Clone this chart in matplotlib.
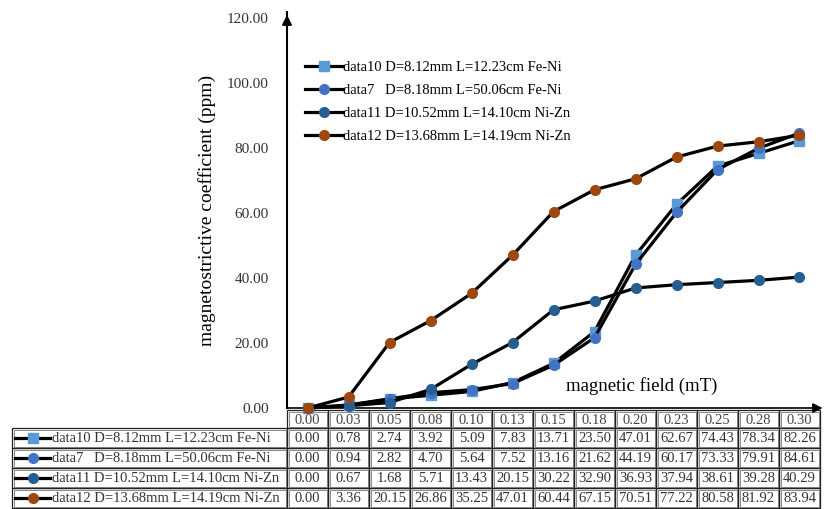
import matplotlib
matplotlib.use("Agg")
import matplotlib.pyplot as plt
from matplotlib.patches import Rectangle

plt.rcParams['font.family'] = ['Liberation Serif', 'DejaVu Serif']

fields = ["0.00", "0.03", "0.05", "0.08", "0.10", "0.13", "0.15",
          "0.18", "0.20", "0.23", "0.25", "0.28", "0.30"]
labels = ["data10 D=8.12mm L=12.23cm Fe-Ni",
          "data7   D=8.18mm L=50.06cm Fe-Ni",
          "data11 D=10.52mm L=14.10cm Ni-Zn",
          "data12 D=13.68mm L=14.19cm Ni-Zn"]
data10 = [0.00, 0.78, 2.74, 3.92, 5.09, 7.83, 13.71, 23.50, 47.01, 62.67, 74.43, 78.34, 82.26]
data7 = [0.00, 0.94, 2.82, 4.70, 5.64, 7.52, 13.16, 21.62, 44.19, 60.17, 73.33, 79.91, 84.61]
data11 = [0.00, 0.67, 1.68, 5.71, 13.43, 20.15, 30.22, 32.90, 36.93, 37.94, 38.61, 39.28, 40.29]
data12 = [0.00, 3.36, 20.15, 26.86, 35.25, 47.01, 60.44, 67.15, 70.51, 77.22, 80.58, 81.92, 83.94]
yticks = [0, 20, 40, 60, 80, 100, 120]

series = [data10, data7, data11, data12]
colors = ["#5B9BD5", "#4472C4", "#255E91", "#9E480E"]
markers = ["s", "o", "o", "o"]

W, H = 826, 509
fig = plt.figure(figsize=(W / 100, H / 100), dpi=100)

# pixel geometry
ax_l, ax_r, ax_b, ax_t = 287, 820, 408, 12
ax = fig.add_axes([ax_l / W, 1 - ax_b / H, (ax_r - ax_l) / W, (ax_b - ax_t) / H])
x = list(range(len(fields)))
ymax = 120 * (ax_b - ax_t) / 390.0

for vals, c, m, lab in zip(series, colors, markers, labels):
    ax.plot(x, vals, color="black", lw=2.3, marker=m, markersize=7,
            markerfacecolor=c, markeredgecolor=c, label=lab, clip_on=False, zorder=3)

ax.set_xlim(-0.5, len(fields) - 0.5)
ax.set_ylim(0, ymax)
ax.set_yticks(yticks)
ax.set_yticklabels([f"{v:.2f}" for v in yticks], fontsize=11, color="#333333")
ax.tick_params(axis='y', length=0, pad=13)
ax.set_xticks([])
for s in ["top", "right"]:
    ax.spines[s].set_visible(False)
ax.spines["left"].set_linewidth(1.5)
ax.spines["bottom"].set_linewidth(1.2)
ax.set_facecolor("none")

# arrows
ax.annotate("", xy=(0, 1.0), xytext=(0, 0.97), xycoords="axes fraction",
            arrowprops=dict(arrowstyle="-|>", color="black", lw=1.5, mutation_scale=14))
ax.annotate("", xy=(1.01, 0), xytext=(0.98, 0), xycoords="axes fraction",
            arrowprops=dict(arrowstyle="-|>", color="black", lw=1.2, mutation_scale=14))

ax.set_ylabel("magnetostrictive coefficient (ppm)", fontsize=14, labelpad=8)
ax.text(0.523, 0.056, "magnetic field (mT)", transform=ax.transAxes, fontsize=13.5,
        ha="left", va="center")

leg = ax.legend(loc="upper left", bbox_to_anchor=(0.01, 0.91), frameon=False,
                fontsize=10.5, handlelength=2.6, handletextpad=0.0, labelspacing=0.68)

# table drawn in pixel coordinates
tax = fig.add_axes([0, 0, 1, 1], zorder=-1)
tax.set_xlim(0, W)
tax.set_ylim(H, 0)
tax.axis("off")

colw = (ax_r - ax_l) / len(fields)
row_tops = [410, 428, 448, 468, 488]
row_bots = [428, 448, 468, 488, 508]
lab_l = 12

def cell(x0, y0, x1, y1):
    tax.add_patch(Rectangle((x0, y0), x1 - x0, y1 - y0, fill=False,
                            edgecolor="#222222", lw=0.9))
    tax.add_patch(Rectangle((x0 + 1.5, y0 + 1.5), x1 - x0 - 3, y1 - y0 - 3, fill=False,
                            edgecolor="#777777", lw=0.6))

# header row
for i, f in enumerate(fields):
    x0 = ax_l + i * colw
    cell(x0, row_tops[0], x0 + colw, row_bots[0])
    tax.text(x0 + colw / 2, (row_tops[0] + row_bots[0]) / 2 + 1, f, ha="center",
             va="center", fontsize=10.5, color="#444444")

for r, (vals, c, m, lab) in enumerate(zip(series, colors, markers, labels)):
    y0, y1 = row_tops[r + 1], row_bots[r + 1]
    yc = (y0 + y1) / 2
    cell(lab_l, y0, ax_l, y1)
    tax.plot([15, 50], [yc, yc], color="black", lw=2.3)
    tax.plot([32.5], [yc], marker=m, markersize=7, color=c)
    tax.text(52, yc + 1, lab, ha="left", va="center", fontsize=10.5, color="#333333")
    for i, v in enumerate(vals):
        x0 = ax_l + i * colw
        cell(x0, y0, x0 + colw, y1)
        tax.text(x0 + colw / 2, yc + 1, f"{v:.2f}", ha="center", va="center",
                 fontsize=10.5, color="#333333")

fig.savefig("out.png", dpi=100)
